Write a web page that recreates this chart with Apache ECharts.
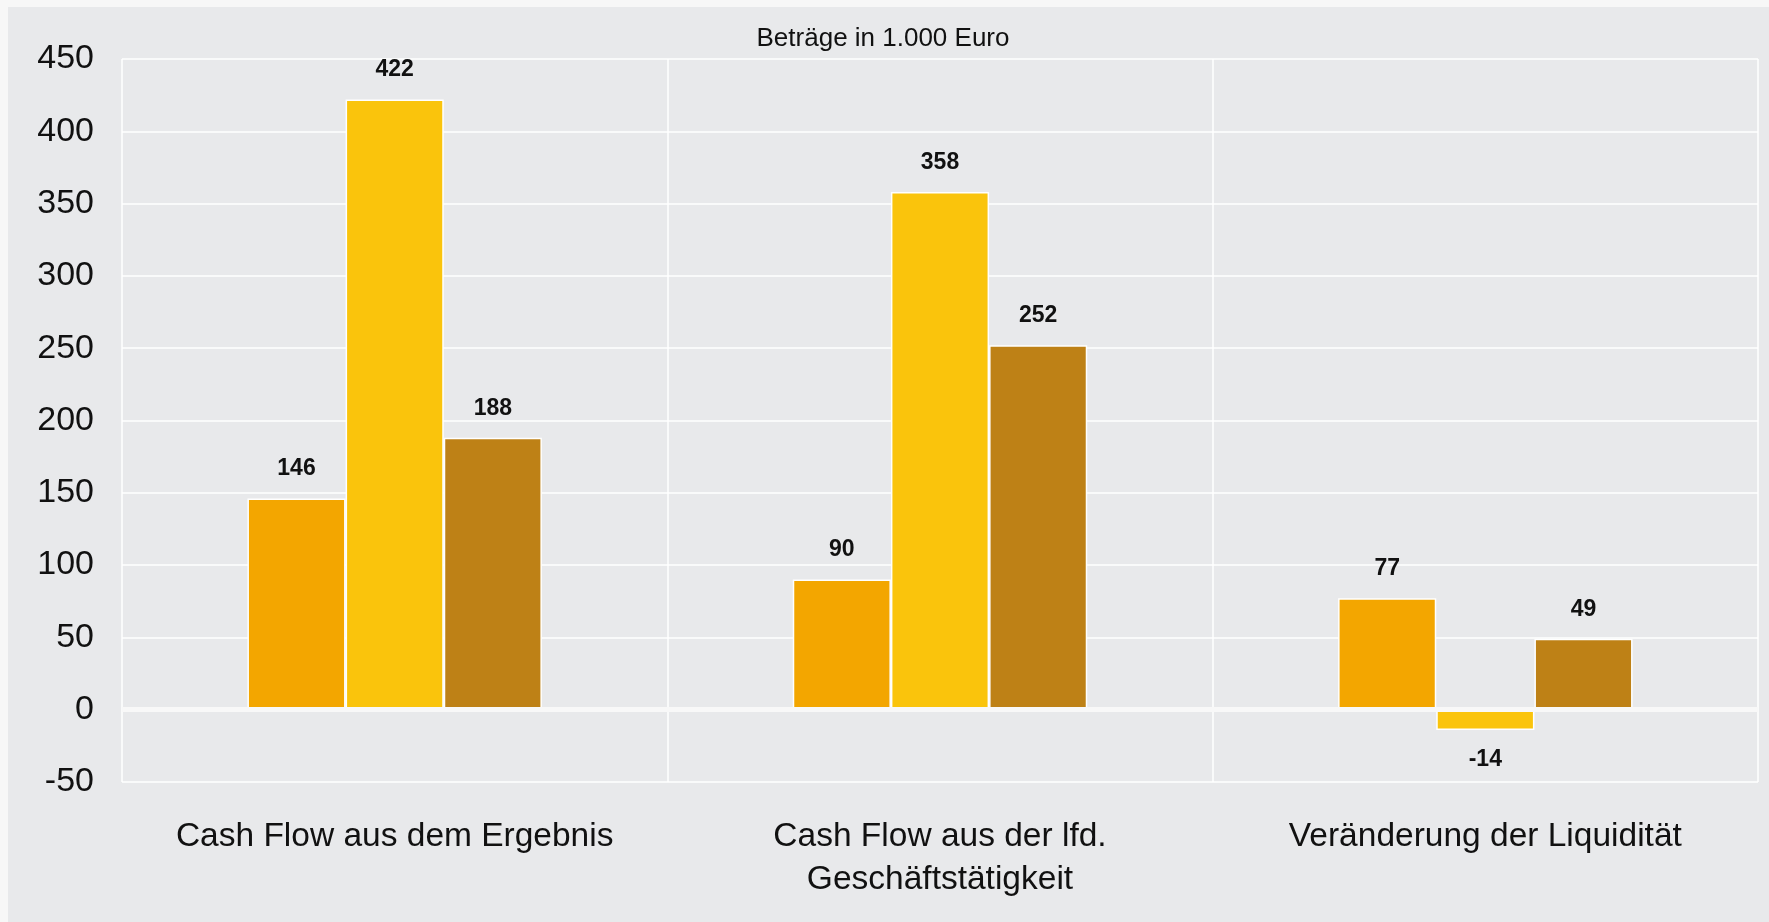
<!DOCTYPE html>
<html>
<head>
<meta charset="utf-8">
<title>Cash Flow</title>
<script src="https://cdn.jsdelivr.net/npm/echarts@6/dist/echarts.min.js"></script>
<style>
    html, body {
        margin: 0;
        padding: 0;
        background: #f7f7f7;
    }
    #chart {
        position: absolute;
        left: 8px;
        top: 7px;
        width: 1761px;
        height: 915px;
    }
</style>
</head>
<body>
<div id="chart"></div>
<script>
// Beträge in 1.000 Euro
var categories = ['Cash Flow aus dem Ergebnis', 'Cash Flow aus der lfd.\nGeschäftstätigkeit', 'Veränderung der Liquidität'];
var serie1 = [146, 90, 77];
var serie2 = [422, 358, -14];
var serie3 = [188, 252, 49];
var yMin = -50;
var yMax = 450;
var yStep = 50;

var font = '"Liberation Sans", Arial, sans-serif';

function barSeries(name, values, color) {
    return {
        name: name,
        type: 'bar',
        barGap: '0%',
        barCategoryGap: '46%',
        itemStyle: {
            color: color,
            borderColor: '#ffffff',
            borderWidth: 1.5
        },
        label: {
            show: true,
            position: 'outside',
            distance: 18,
            color: '#111111',
            fontFamily: font,
            fontWeight: 'bold',
            fontSize: 23
        },
        data: values
    };
}

var myChart = echarts.init(document.getElementById('chart'));

var option = {
    backgroundColor: '#e8e9eb',
    animation: false,
    title: {
        text: 'Beträge in 1.000 Euro',
        left: 870,
        textAlign: 'center',
        top: 14,
        textStyle: {
            color: '#111111',
            fontFamily: font,
            fontWeight: 'normal',
            fontSize: 26
        }
    },
    grid: {
        left: 114,
        right: 11,
        top: 52,
        bottom: 140,
        containLabel: false
    },
    xAxis: {
        type: 'category',
        data: categories,
        axisLine: { show: false },
        axisTick: { show: false },
        axisLabel: {
            color: '#111111',
            fontFamily: font,
            fontSize: 33.5,
            lineHeight: 43,
            margin: 33,
            interval: 0
        },
        splitLine: {
            show: true,
            interval: 0,
            lineStyle: { color: '#ffffff', width: 1.5 }
        }
    },
    yAxis: {
        type: 'value',
        min: yMin,
        max: yMax,
        interval: yStep,
        axisLine: { show: false },
        axisTick: { show: false },
        axisLabel: {
            color: '#111111',
            fontFamily: font,
            fontSize: 34,
            margin: 28
        },
        splitLine: {
            lineStyle: { color: '#ffffff', width: 1.5 }
        }
    },
    series: [
        barSeries('Reihe 1', serie1, '#f3a600'),
        barSeries('Reihe 2', serie2, '#fac40c'),
        barSeries('Reihe 3', serie3, '#be8116')
    ]
};

// Nulllinie
option.series[0].markLine = {
    silent: true,
    symbol: 'none',
    label: { show: false },
    lineStyle: { color: '#f8f8f8', width: 5, type: 'solid', opacity: 1 },
    data: [{ yAxis: 0 }]
};

myChart.setOption(option);
window.addEventListener('resize', function () {
    myChart.resize();
});
</script>
</body>
</html>
